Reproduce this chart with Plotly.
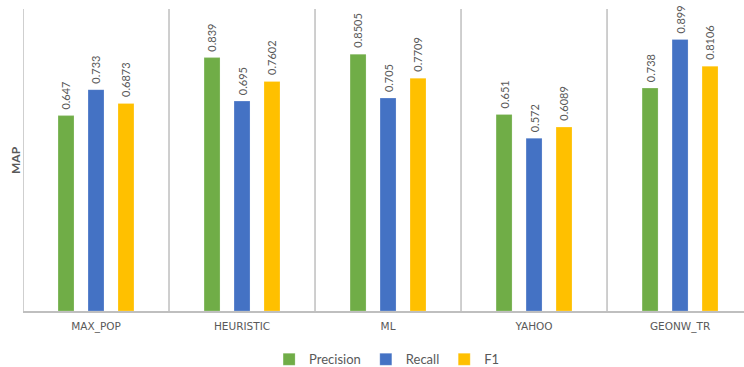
import plotly.graph_objects as go

# Methods compared and their MAP scores
categories = ["MAX_POP", "HEURISTIC", "ML", "YAHOO", "GEONW_TR"]
precision = [0.647, 0.839, 0.8505, 0.651, 0.738]
recall = [0.733, 0.695, 0.705, 0.572, 0.899]
f1 = [0.6873, 0.7602, 0.7709, 0.6089, 0.8106]
value_labels = {
    "Precision": ["0.647", "0.839", "0.8505", "0.651", "0.738"],
    "Recall": ["0.733", "0.695", "0.705", "0.572", "0.899"],
    "F1": ["0.6873", "0.7602", "0.7709", "0.6089", "0.8106"],
}

series = [
    ("Precision", precision, "#70AD47"),
    ("Recall", recall, "#4472C4"),
    ("F1", f1, "#FFC000"),
]

FONT = "Lato, 'Noto Sans', sans-serif"
AXIS_FONT = "'DejaVu Sans', sans-serif"
GREY_TEXT = "#595959"
SLOT_PX = 30  # horizontal distance between neighbouring bars in a group

fig = go.Figure()
for k, (name, vals, color) in enumerate(series):
    fig.add_trace(go.Bar(
        name=name,
        x=categories,
        y=vals,
        marker=dict(color=color, line=dict(color="rgba(255,255,255,0.35)", width=0.6)),
    ))
    # Rotated value labels just above each bar
    for cat, v, lab in zip(categories, vals, value_labels[name]):
        fig.add_annotation(
            x=cat, y=v, text=lab, textangle=-90, showarrow=False,
            xanchor="center", yanchor="bottom",
            xshift=(k - 1) * SLOT_PX, yshift=4,
            font=dict(family=FONT, size=11, color=GREY_TEXT),
        )

# Vertical separators between method groups
for i in range(len(categories) + 1):
    fig.add_shape(
        type="line", xref="x", yref="paper",
        x0=i - 0.5, x1=i - 0.5, y0=0, y1=1,
        line=dict(color="#BFBFBF", width=1.5),
        layer="below",
    )

fig.add_annotation(
    text="<b>MAP</b>", xref="paper", yref="paper", x=0, y=0.5,
    xanchor="center", yanchor="middle",
    xshift=-8, textangle=-90, showarrow=False,
    font=dict(family=FONT, size=12, color=GREY_TEXT),
)

fig.update_layout(
    width=744, height=367,
    margin=dict(l=23, r=0, t=9, b=56, autoexpand=False),
    paper_bgcolor="white", plot_bgcolor="white",
    barmode="group",
    bargap=0.384,
    bargroupgap=0.467,
    font=dict(family=FONT, color=GREY_TEXT),
    showlegend=True,
    legend=dict(
        orientation="h", x=0.505, xanchor="center", y=-0.16, yanchor="middle",
        font=dict(family=FONT, size=13, color=GREY_TEXT),
        itemwidth=30, traceorder="normal",
    ),
    xaxis=dict(
        range=[-0.5, 4.438], automargin=False,
        showgrid=False, zeroline=False,
        showline=True, linecolor="#BFBFBF", linewidth=1.5,
        ticks="", ticklabelstandoff=5,
        tickfont=dict(family=AXIS_FONT, size=10.5, color=GREY_TEXT),
    ),
    yaxis=dict(
        range=[0, 1], showgrid=False, zeroline=False, automargin=False,
        showticklabels=False, showline=False, ticks="",
    ),
)

fig.write_html("out.html")
